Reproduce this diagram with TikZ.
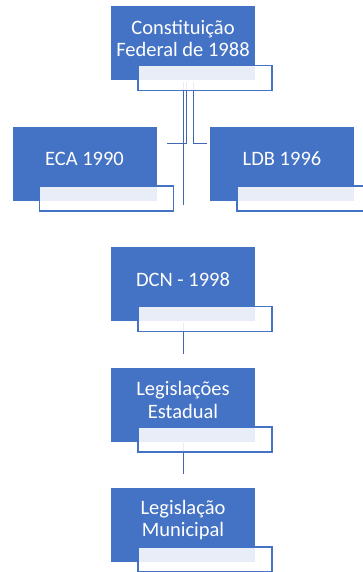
\documentclass[tikz,border=0pt]{standalone}
\usepackage{fontspec}
\setmainfont{Carlito}
\usetikzlibrary{positioning,backgrounds}
\definecolor{boxblue}{HTML}{4472C4}
\definecolor{linkblue}{HTML}{3F67B2}

\begin{document}
\begin{tikzpicture}[x=1pt,y=1pt,line width=2.4pt,
    box/.style={fill=boxblue,minimum width=144pt,minimum height=74pt,inner sep=0pt},
    sub/.style={draw=boxblue,line width=1.5pt,fill=white,fill opacity=0.88,minimum width=134pt,minimum height=25pt,inner sep=0pt},
    every label/.style={text=white,align=center,font=\fontsize{20.5}{22.5}\selectfont,yshift=5pt}]

    \useasboundingbox (0,0) rectangle (363,572);
    \clip (0,0) rectangle (363,572);

    \node[box] (cf) at (183,528.5) [label=center:{Constituição\\Federal de 1988}] {};
    \node[box] (eca) at (84.5,408) [label=center:{ECA 1990}] {};
    \node[box] (ldb) at (282,408) [label=center:{LDB 1996}] {};
    \node[box] (dcn) at (183,287.5) [label=center:{DCN - 1998}] {};
    \node[box] (est) at (183,167) [label=center:{Legislações\\Estadual}] {};
    \node[box] (mun) at (183,47) [label=center:{Legislação\\Municipal}] {};

    \node[sub] (cf-sub) at ([xshift=22pt,yshift=-34.5pt]cf.center) {};
    \node[sub] (eca-sub) at ([xshift=22pt,yshift=-34.5pt]eca.center) {};
    \node[sub] (ldb-sub) at ([xshift=22pt,yshift=-34.5pt]ldb.center) {};
    \node[sub] (dcn-sub) at ([xshift=22pt,yshift=-34.5pt]dcn.center) {};
    \node[sub] (est-sub) at ([xshift=22pt,yshift=-34.5pt]est.center) {};
    \node[sub] (mun-sub) at ([xshift=22pt,yshift=-34.5pt]mun.center) {};

    \coordinate (eca-in) at (167,429);
    \coordinate (ldb-in) at (207,429);
    \coordinate (dcn-in) at (183,367);

    \begin{pgfonlayer}{background}
        \draw[linkblue] (cf) -- (dcn-in);
        \draw[linkblue] ([xshift=3pt]cf.south) |- (eca-in);
        \draw[linkblue] ([xshift=10pt]cf.south) |- (ldb-in);
        \draw[linkblue,shorten >=12.5pt] (dcn) -- (est);
        \draw[linkblue,shorten >=12.5pt] (est) -- (mun);
    \end{pgfonlayer}
\end{tikzpicture}
\end{document}
